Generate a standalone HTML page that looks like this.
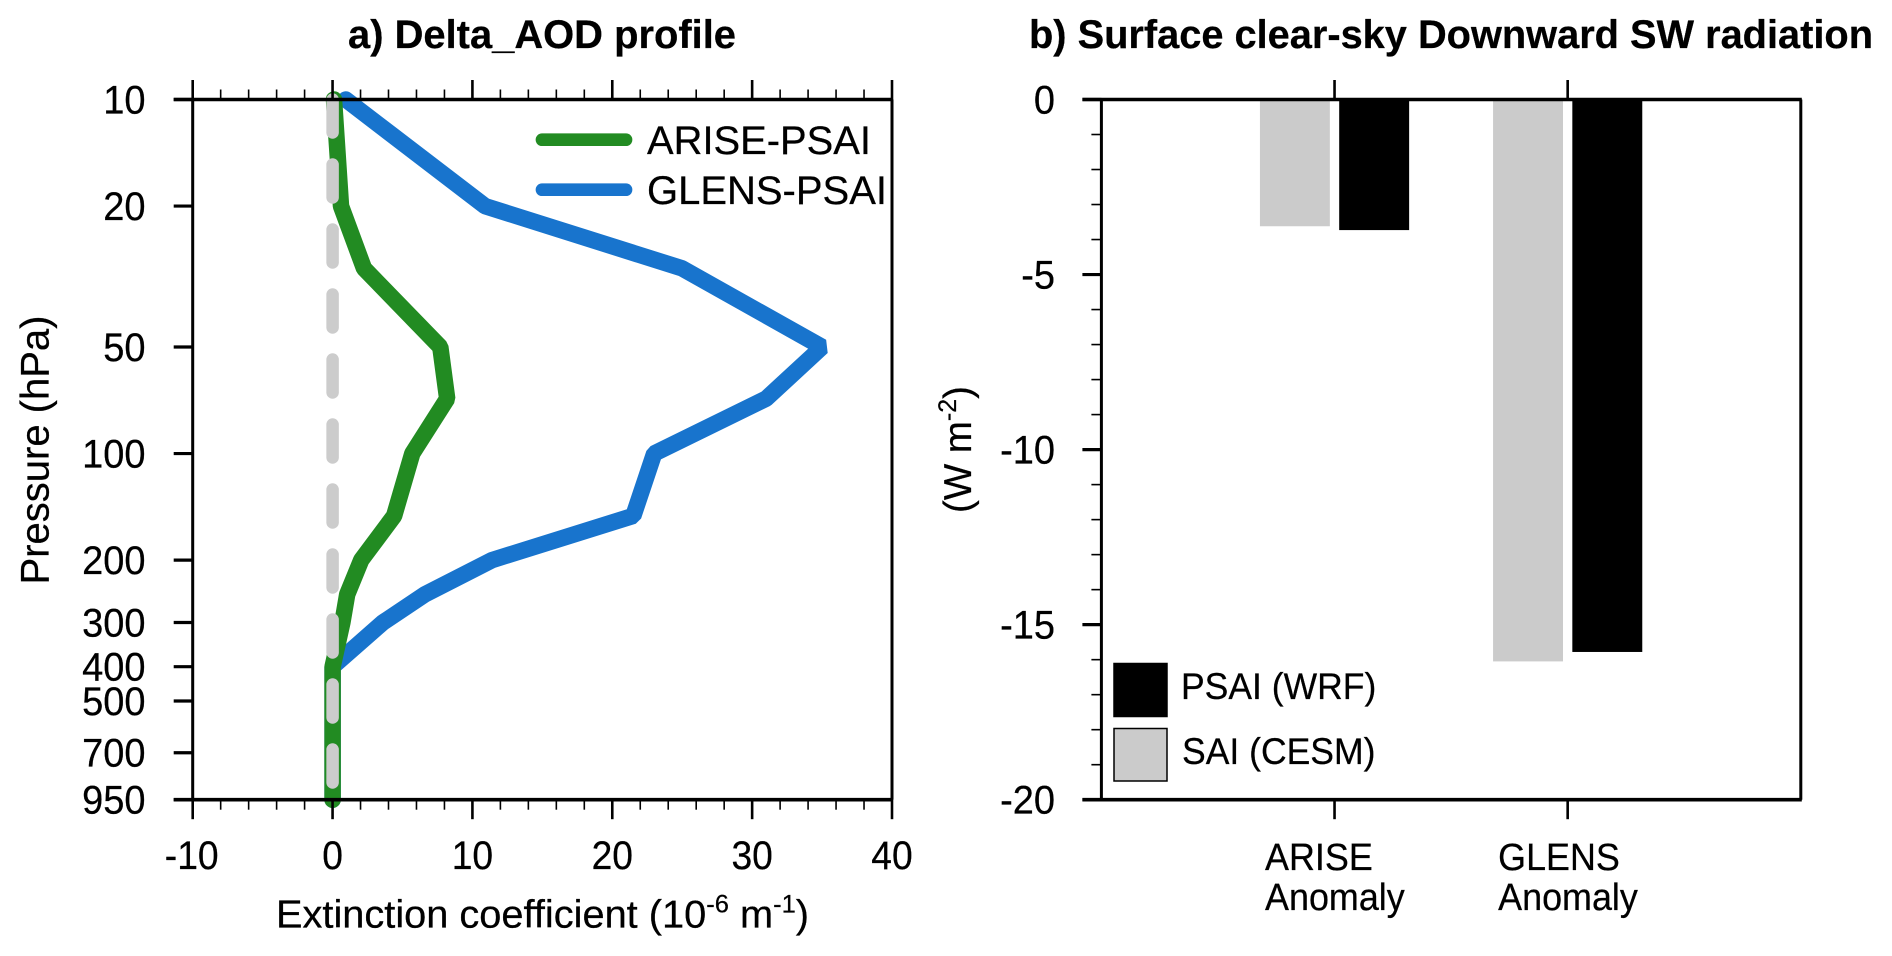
<!DOCTYPE html>
<html>
<head>
<meta charset="utf-8">
<title>Delta AOD profile and surface SW radiation</title>
<style>
html,body{margin:0;padding:0;background:#fff;}
svg{display:block;}
text{font-family:"Liberation Sans",Arial,sans-serif;fill:#000;stroke:#000;stroke-width:0.25;}
</style>
</head>
<body>
<svg id="figure" xmlns="http://www.w3.org/2000/svg" width="1892" height="956" viewBox="0 0 1892 956">
  <text x="542" y="48" text-anchor="middle" font-size="40" font-weight="bold" textLength="388" lengthAdjust="spacingAndGlyphs">a) Delta_AOD profile</text>
  <text x="1451" y="48" text-anchor="middle" font-size="40" font-weight="bold" textLength="844" lengthAdjust="spacingAndGlyphs">b) Surface clear-sky Downward SW radiation</text>
  <text transform="translate(48.5,450) rotate(-90)" text-anchor="middle" font-size="40">Pressure (hPa)</text>
  <text x="276" y="927.5" font-size="39" textLength="533" lengthAdjust="spacingAndGlyphs">Extinction coefficient (10<tspan font-size="25" dy="-15">-6</tspan><tspan dy="15"> m</tspan><tspan font-size="25" dy="-15">-1</tspan><tspan dy="15">)</tspan></text>
  <text transform="translate(971,449.5) rotate(-90)" text-anchor="middle" font-size="38.5">(W m<tspan font-size="25" dy="-15">-2</tspan><tspan dy="15">)</tspan></text>
  <g id="panel-a"></g>
  <g id="panel-b"></g>
</svg>
<script>
// Panel a data
var pressureLevels = [10, 20, 30, 50, 70, 100, 150, 200, 250, 300, 400, 500, 700, 950];
var pressureTicks = [10, 20, 50, 100, 200, 300, 400, 500, 700, 950];
var extinctionTicks = [-10, 0, 10, 20, 30, 40];
var extinctionMinorTicks = [-8, -6, -4, -2, 2, 4, 6, 8, 12, 14, 16, 18, 22, 24, 26, 28, 32, 34, 36, 38];
var glensSeries = [0.95, 10.9, 25, 35, 31, 23, 21.5, 11.4, 6.6, 3.6, 0, 0, 0, 0];
var ariseSeries = [0.1, 0.6, 2.25, 7.7, 8.2, 5.7, 4.4, 2.05, 1.05, 0.7, 0, 0, 0, 0];
var referenceSeries = [0, 0, 0, 0, 0, 0, 0, 0, 0, 0, 0, 0, 0, 0];
// Panel b data
var barCategories = ['ARISE', 'GLENS'];
var barCategorySubtitle = 'Anomaly';
var saiValues = [-3.62, -16.05];
var psaiValues = [-3.73, -15.78];
var wattTicks = [0, -5, -10, -15, -20];
var wattMinorTicks = [-1, -2, -3, -4, -6, -7, -8, -9, -11, -12, -13, -14, -16, -17, -18, -19];

var NS = 'http://www.w3.org/2000/svg';
var panelA = document.getElementById('panel-a');
var panelB = document.getElementById('panel-b');

function make(parent, tag, attrs, txt) {
  var el = document.createElementNS(NS, tag);
  for (var k in attrs) el.setAttribute(k, attrs[k]);
  if (txt !== undefined) el.textContent = txt;
  parent.appendChild(el);
  return el;
}

function squeeze(el, ratio) {
  el.setAttribute('textLength', (el.getComputedTextLength() * ratio).toFixed(1));
  el.setAttribute('lengthAdjust', 'spacingAndGlyphs');
}

var A = {left: 192.7, right: 892, top: 99.5, bottom: 799.7};
var B = {left: 1101.4, right: 1800.8, top: 99.5, bottom: 799.7};

function xA(v) { return A.left + (v - (-10)) / 50 * (A.right - A.left); }
function yA(p) { return A.top + Math.log(p / 10) / Math.log(950 / 10) * (A.bottom - A.top); }
function xB(c) { return B.left + c / 3 * (B.right - B.left); }
function yB(v) { return B.top + (0 - v) / 20 * (B.bottom - B.top); }

function pointsFor(series) {
  return series.map(function (v, i) { return xA(v).toFixed(1) + ',' + yA(pressureLevels[i]).toFixed(1); }).join(' ');
}

/* ---------- Panel a series ---------- */
var glensLine = make(panelA, 'polyline', {points: pointsFor(glensSeries), fill: 'none', stroke: '#1874cd', 'stroke-width': 16.5, 'stroke-linejoin': 'bevel', 'stroke-linecap': 'round'});



var ariseLine = make(panelA, 'polyline', {points: pointsFor(ariseSeries), fill: 'none', stroke: '#228b22', 'stroke-width': 16.5, 'stroke-linejoin': 'bevel', 'stroke-linecap': 'round'});



var refLine = make(panelA, 'polyline', {points: pointsFor(referenceSeries), fill: 'none', stroke: '#cccccc', 'stroke-width': 12.5, 'stroke-linecap': 'round', 'stroke-dasharray': '33 32'});



/* ---------- Panel a axes ---------- */
var frameA = make(panelA, 'path', {d: 'M' + A.left + ' ' + A.top + 'V' + A.bottom + 'M' + A.right + ' ' + A.top + 'V' + A.bottom, stroke: '#000', 'stroke-width': 3, fill: 'none'});



var topAxisA = make(panelA, 'line', {x1: A.left - 19, x2: A.right + 1, y1: A.top, y2: A.top, stroke: '#000', 'stroke-width': 3.6});



var bottomAxisA = make(panelA, 'line', {x1: A.left - 19, x2: A.right + 1, y1: A.bottom, y2: A.bottom, stroke: '#000', 'stroke-width': 3.6});



extinctionTicks.forEach(function (v) {
  var x = xA(v);
  var t1 = make(panelA, 'line', {x1: x, x2: x, y1: A.top - 19.5, y2: A.top, stroke: '#000', 'stroke-width': 2.6});
  
  
  var t2 = make(panelA, 'line', {x1: x, x2: x, y1: A.bottom, y2: A.bottom + 19.5, stroke: '#000', 'stroke-width': 2.6});
  
  
  var lab = make(panelA, 'text', {x: x - (v < 0 ? 1 : 0), y: 869, 'text-anchor': 'middle', 'font-size': 40}, String(v));
  
  
  squeeze(lab, 0.93);
});
extinctionMinorTicks.forEach(function (v) {
  var x = xA(v);
  var t1 = make(panelA, 'line', {x1: x, x2: x, y1: A.top - 10, y2: A.top, stroke: '#000', 'stroke-width': 1.6});
  
  
  var t2 = make(panelA, 'line', {x1: x, x2: x, y1: A.bottom, y2: A.bottom + 10, stroke: '#000', 'stroke-width': 1.6});
  
  
});
pressureTicks.forEach(function (p) {
  var y = yA(p);
  var t = make(panelA, 'line', {x1: A.left - 19, x2: A.left, y1: y, y2: y, stroke: '#000', 'stroke-width': 3.2});
  
  
  var lab = make(panelA, 'text', {x: 145.5, y: y + 14, 'text-anchor': 'end', 'font-size': 40}, String(p));
  
  
  squeeze(lab, 0.95);
});

/* ---------- Panel a legend ---------- */
var legA1 = make(panelA, 'line', {x1: 542, x2: 626, y1: 139.7, y2: 139.7, stroke: '#228b22', 'stroke-width': 12.7, 'stroke-linecap': 'round'});


var legA1t = make(panelA, 'text', {x: 647, y: 154, 'font-size': 40, textLength: 224, lengthAdjust: 'spacingAndGlyphs'}, 'ARISE-PSAI');


var legA2 = make(panelA, 'line', {x1: 542, x2: 626, y1: 189.7, y2: 189.7, stroke: '#1874cd', 'stroke-width': 12.7, 'stroke-linecap': 'round'});


var legA2t = make(panelA, 'text', {x: 647, y: 204, 'font-size': 40, textLength: 240, lengthAdjust: 'spacingAndGlyphs'}, 'GLENS-PSAI');



/* ---------- Panel b bars ---------- */
var barWidth = 0.3, barOffset = 0.17;
barCategories.forEach(function (name, i) {
  var c = i + 1;
  var g = make(panelB, 'rect', {x: xB(c - barOffset) - xB(barWidth) / 2 + xB(0) / 2, y: yB(0), width: xB(barWidth) - xB(0), height: yB(saiValues[i]) - yB(0), fill: '#cbcbcb'});
  
  
  var k = make(panelB, 'rect', {x: xB(c + barOffset) - xB(barWidth) / 2 + xB(0) / 2, y: yB(0), width: xB(barWidth) - xB(0), height: yB(psaiValues[i]) - yB(0), fill: '#000'});
  
  
});

/* ---------- Panel b axes ---------- */
var frameB = make(panelB, 'path', {d: 'M' + B.left + ' ' + B.top + 'V' + B.bottom + 'M' + B.right + ' ' + B.top + 'V' + B.bottom, stroke: '#000', 'stroke-width': 3, fill: 'none'});



var topAxisB = make(panelB, 'line', {x1: B.left - 19, x2: B.right + 1, y1: B.top, y2: B.top, stroke: '#000', 'stroke-width': 3.6});



var bottomAxisB = make(panelB, 'line', {x1: B.left - 19, x2: B.right + 1, y1: B.bottom, y2: B.bottom, stroke: '#000', 'stroke-width': 3.6});



wattTicks.forEach(function (v) {
  var y = yB(v);
  var t = make(panelB, 'line', {x1: B.left - 19, x2: B.left, y1: y, y2: y, stroke: '#000', 'stroke-width': 3.2});
  
  
  var lab = make(panelB, 'text', {x: 1055, y: y + 14, 'text-anchor': 'end', 'font-size': 40}, String(v));
  
  
  squeeze(lab, 0.95);
});
wattMinorTicks.forEach(function (v) {
  var y = yB(v);
  var t = make(panelB, 'line', {x1: B.left - 10, x2: B.left, y1: y, y2: y, stroke: '#000', 'stroke-width': 1.6});
  
  
});
barCategories.forEach(function (name, i) {
  var x = xB(i + 1);
  var t1 = make(panelB, 'line', {x1: x, x2: x, y1: B.top - 19.5, y2: B.top, stroke: '#000', 'stroke-width': 2.6});
  
  
  var t2 = make(panelB, 'line', {x1: x, x2: x, y1: B.bottom, y2: B.bottom + 19.5, stroke: '#000', 'stroke-width': 2.6});
  
  
  var l1 = make(panelB, 'text', {x: x - 69.5, y: 870, 'font-size': 38}, name);
  
  
  squeeze(l1, 0.945);
  var l2 = make(panelB, 'text', {x: x - 69.5, y: 910, 'font-size': 38}, barCategorySubtitle);
  
  
  squeeze(l2, 0.945);
});

/* ---------- Panel b legend ---------- */
var legB1 = make(panelB, 'rect', {x: 1114, y: 663.5, width: 53, height: 53, fill: '#000', stroke: '#000', 'stroke-width': 1.5});


var legB1t = make(panelB, 'text', {x: 1181, y: 699, 'font-size': 37.5}, 'PSAI (WRF)');


squeeze(legB1t, 0.947);
var legB2 = make(panelB, 'rect', {x: 1114, y: 728.5, width: 53, height: 52.5, fill: '#cbcbcb', stroke: '#000', 'stroke-width': 1.5});


var legB2t = make(panelB, 'text', {x: 1182, y: 764, 'font-size': 37.5}, 'SAI (CESM)');


squeeze(legB2t, 0.947);
</script>
</body>
</html>
